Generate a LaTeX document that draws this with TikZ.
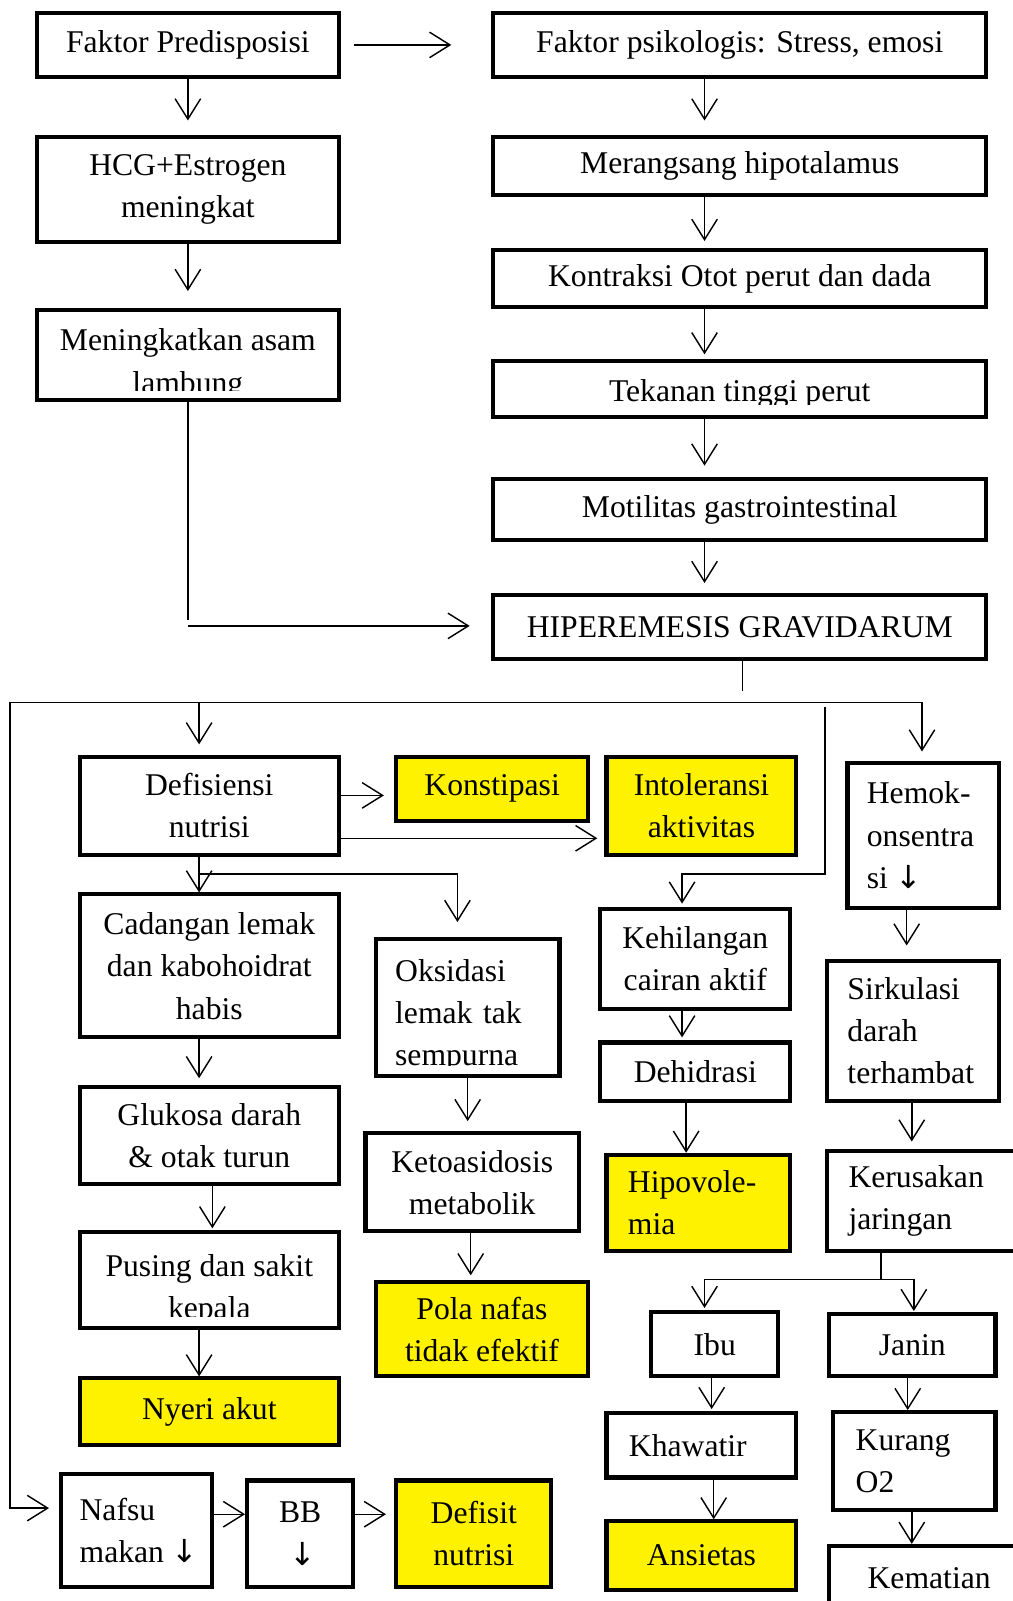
\documentclass[tikz,border=0pt]{standalone}
\usepackage{fontspec}
\setmainfont{Liberation Serif}
\newfontfamily\arrowfont{DejaVu Sans}
\usetikzlibrary{arrows.meta}
\newcommand{\turun}{{\arrowfont\kern-3pt↓\kern-8pt}}

\begin{document}
\begin{tikzpicture}[x=1pt, y=-1pt,
  box/.style={draw, line width=4pt, fill=white, inner sep=0pt, align=center, font=\fontsize{31}{41.5}\selectfont},
  ybox/.style={box, fill=yellow},
  lbox/.style={box, align=left, inner xsep=21pt},
  txt/.style={inner sep=0pt, align=center, font=\fontsize{31}{41.5}\selectfont},
  line/.style={line width=1.4pt},
  arr/.style={line, -{Straight Barb[length=20pt, width=25pt]}}]
\clip (0,0) rectangle (992,1568);
\fill[white] (0,0) rectangle (992,1568);

% top part
\node[box, minimum width=296pt, minimum height=62pt] (fp) at (184,44) {Faktor Predisposisi};
\node[box, minimum width=483pt, minimum height=62pt] (fpsi) at (724.5,44) {Faktor psikologis: Stress, emosi};
\node[box, minimum width=296pt, minimum height=103pt] (hcg) at (184,185.5) {HCG+Estrogen\\meningkat};
\node[box, minimum width=296pt, minimum height=88pt] (asam) at (184,348) {};
\begin{scope}
  \clip (36,304) rectangle (332,382);
  \node[txt] (asamtxt) at (184,357) {Meningkatkan asam\\lambung};
\end{scope}
\node[box, minimum width=483pt, minimum height=57pt] (hipo) at (724.5,162.5) {Merangsang hipotalamus};
\node[box, minimum width=483pt, minimum height=56pt] (kontr) at (724.5,273) {Kontraksi Otot perut dan dada};
\node[box, minimum width=483pt, minimum height=54pt] (tekan) at (724.5,381) {};
\begin{scope}
  \clip (483,354) rectangle (966,396);
  \node[txt] (tekantxt) at (724.5,386) {Tekanan tinggi perut};
\end{scope}
\node[box, minimum width=483pt, minimum height=60pt] (moti) at (724.5,499) {Motilitas gastrointestinal};
\node[box, minimum width=483pt, minimum height=62pt] (hg) at (724.5,614) {HIPEREMESIS GRAVIDARUM};

\draw[arr, shorten <=13pt, shorten >=39pt] (fp.east) -- (fpsi.west);
\draw[arr, shorten >=14pt] (fp) -- (hcg);
\draw[arr, shorten >=17pt] (hcg) -- (asam);
\draw[arr, shorten >=14pt] ([xshift=-34.5pt]fpsi.south) -- ([xshift=-34.5pt]hipo.north);
\draw[arr, shorten >=7pt] ([xshift=-34.5pt]hipo.south) -- ([xshift=-34.5pt]kontr.north);
\draw[arr, shorten >=5pt] ([xshift=-34.5pt]kontr.south) -- ([xshift=-34.5pt]tekan.north);
\draw[arr, shorten >=11pt] ([xshift=-34.5pt]tekan.south) -- ([xshift=-34.5pt]moti.north);
\draw[arr, shorten >=10pt] ([xshift=-34.5pt]moti.south) -- ([xshift=-34.5pt]hg.north);

\coordinate (lbend) at (184,613);
\draw[line] (asam.south) -- ([yshift=6pt]lbend);
\draw[arr, shorten >=21pt] (lbend) -- (lbend -| hg.west);

% bottom part
\node[box, minimum width=254pt, minimum height=96pt] (defi) at (205,789) {Defisiensi\\nutrisi};
\node[ybox, minimum width=188pt, minimum height=63pt] (kons) at (482,772.5) {Konstipasi};
\node[ybox, minimum width=186pt, minimum height=96pt] (intol) at (687,789) {Intoleransi\\aktivitas};
\node[lbox, inner xsep=19pt, text width=110pt, minimum height=142pt] (hemo) at (904,818) {Hemok-\\onsentra\\si \turun};
\node[box, minimum width=254pt, minimum height=140pt] (cad) at (205,946) {Cadangan lemak\\dan kabohoidrat\\habis};
\node[box, minimum width=180pt, minimum height=134pt] (oks) at (458,987) {};
\begin{scope}
  \clip (368,920) rectangle (548,1044);
  \node[txt, align=left, text width=142pt] (okstxt) at (458,995) {Oksidasi\\lemak tak\\sempurna};
\end{scope}
\node[box, minimum width=186pt, minimum height=98pt] (kehil) at (681,939) {Kehilangan\\cairan aktif};
\node[box, minimum width=186pt, minimum height=57pt] (dehid) at (681,1049.5) {Dehidrasi};
\node[lbox, inner xsep=20pt, text width=128pt, minimum height=137pt] (sirk) at (894,1009.5) {Sirkulasi\\darah\\terhambat};
\node[box, minimum width=254pt, minimum height=95pt] (gluk) at (205,1112.5) {Glukosa darah\\\& otak turun};
\node[box, minimum width=209pt, minimum height=96pt] (keto) at (462.5,1158) {Ketoasidosis\\metabolik};
\node[lbox, fill=yellow, text width=138pt, minimum height=94pt] (hipov) at (684,1178) {Hipovole-\\mia};
\node[lbox, text width=156pt, minimum height=98pt] (kerus) at (909,1176) {Kerusakan\\jaringan};
\node[box, minimum width=254pt, minimum height=94pt] (pusing) at (205,1254) {};
\begin{scope}
  \clip (78,1207) rectangle (332,1289);
  \node[txt] (pusingtxt) at (205,1263) {Pusing dan sakit\\kepala};
\end{scope}
\node[ybox, minimum width=208pt, minimum height=92pt] (pola) at (472,1302) {Pola nafas\\tidak efektif};
\node[ybox, minimum width=254pt, minimum height=65pt] (nyeri) at (205,1382.5) {Nyeri akut};
\node[box, minimum width=124pt, minimum height=63pt] (ibu) at (700,1316.5) {Ibu};
\node[box, minimum width=163pt, minimum height=61pt] (janin) at (893.5,1317.5) {Janin};
\node[lbox, inner xsep=22pt, text width=142pt, minimum height=63pt] (khaw) at (687,1415.5) {Khawatir};
\node[lbox, inner xsep=22pt, text width=115pt, minimum height=96pt] (kurang) at (895.5,1431) {Kurang\\O2};
\node[ybox, minimum width=186pt, minimum height=67pt] (ansi) at (687,1523.5) {Ansietas};
\node[box, minimum width=196pt, minimum height=63pt] (kemat) at (910,1545.5) {Kematian};
\node[lbox, inner xsep=18pt, text width=112pt, minimum height=110pt] (nafsu) at (134,1499) {Nafsu\\makan \turun};
\node[box, minimum width=104pt, minimum height=104pt] (bb) at (294,1502) {BB\\\turun};
\node[ybox, minimum width=152pt, minimum height=104pt] (defisit) at (464,1502) {Defisit\\nutrisi};

\coordinate (hgdrop) at (727,677);
\coordinate (busl) at (10,688);
\coordinate (busr) at (903,688);
\draw[line] (hg.south -| hgdrop) -- (hgdrop);
\draw[line] (busl) -- (busr);
\draw[arr, shorten >=10pt] ([xshift=-10pt]defi.north |- busl) -- ([xshift=-10pt]defi.north);
\draw[arr, shorten >=9pt] (busr) -- (busr |- hemo.north);
\draw[arr, shorten >=10pt] (busl) |- ([yshift=22pt]nafsu.west);

\coordinate (kbr) at (808,692);
\coordinate (kbr2) at (808,856);
\draw[arr, shorten >=3pt] (kbr) -- (kbr2) -| ([xshift=-13pt]kehil.north);

\draw[arr, shorten >=10pt] ([yshift=10pt]defi.east) -- ([yshift=10pt]defi.east -| kons.west);
\draw[arr, shorten >=7pt] ([yshift=-32pt]defi.east) -- ([yshift=-32pt]defi.east -| intol.west);
\draw[arr] ([xshift=-10pt]defi.south) -- ([xshift=-10pt]cad.north);
\coordinate (brk) at (195,856);
\draw[arr, shorten >=15pt] (brk) -| ([xshift=-10pt]oks.north);
\draw[arr, shorten >=7pt] ([xshift=-10pt]cad.south) -- ([xshift=-10pt]gluk.north);
\draw[arr, shorten >=2pt] ([xshift=3pt]gluk.south) -- ([xshift=3pt]pusing.north);
\draw[arr] ([xshift=-10pt]pusing.south) -- ([xshift=-10pt]nyeri.north);
\draw[arr, shorten >=10pt] (oks.south) -- (oks.south |- keto.north);
\draw[arr, shorten >=5pt] ([xshift=-1.5pt]keto.south) -- ([xshift=-1.5pt]keto.south |- pola.north);
\draw[arr, shorten >=3pt] ([xshift=-13pt]kehil.south) -- ([xshift=-13pt]dehid.north);
\draw[arr] ([xshift=-9pt]dehid.south) -- ([xshift=-12pt]hipov.north);
\draw[arr, shorten >=13pt] ([xshift=-16pt]hemo.south) -- ([xshift=-16pt]hemo.south |- sirk.north);
\draw[arr, shorten >=7pt] ([xshift=-1pt]sirk.south) -- ([xshift=-1pt]sirk.south |- kerus.north);

\coordinate (split) at (863,1253);
\draw[line] ([xshift=-46pt]kerus.south) -- (split);
\draw[arr, shorten >=2pt] (split) -| ([xshift=-10pt]ibu.north);
\draw[arr, shorten >=1pt] (split) -| ([xshift=1.5pt]janin.north);
\draw[arr, shorten >=2pt] ([xshift=-3pt]ibu.south) -- ([xshift=-3pt]ibu.south |- khaw.north);
\draw[arr] ([xshift=12pt]khaw.south) -- ([xshift=12pt]khaw.south |- ansi.north);
\draw[arr] ([xshift=-4.5pt]janin.south) -- ([xshift=-4.5pt]janin.south |- kurang.north);
\draw[arr] ([xshift=-2.5pt]kurang.south) -- ([xshift=-2.5pt]kurang.south |- kemat.north);
\draw[arr] ([yshift=16pt]nafsu.east) -- ([yshift=16pt]nafsu.east -| bb.west);
\draw[arr, shorten >=8pt] ([yshift=19pt]bb.east) -- ([yshift=19pt]bb.east -| defisit.west);
\end{tikzpicture}
\end{document}
